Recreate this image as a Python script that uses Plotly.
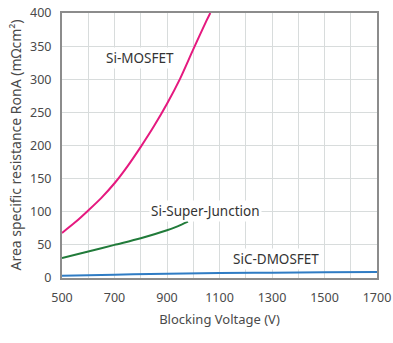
import plotly.graph_objects as go

mos_x = [500, 550, 600, 650, 700, 750, 800, 850, 900, 950, 1000, 1050, 1065]
mos_y = [68, 84, 102, 121, 143, 169, 198, 229, 263, 301, 345, 388, 400]

sj_x = [500, 600, 700, 800, 900, 940, 980]
sj_y = [30, 40, 50, 60, 72, 78, 85]

sic_x = [500, 700, 900, 1100, 1300, 1500, 1700]
sic_y = [3.5, 5, 6.5, 7.5, 8, 8.5, 9]

labels = ["Si-MOSFET", "Si-Super-Junction", "SiC-DMOSFET"]
label_x = [797, 1045, 1315]
label_y = [332, 101, 29]

x_ticks = [500, 700, 900, 1100, 1300, 1500, 1700]
y_ticks = [0, 50, 100, 150, 200, 250, 300, 350, 400]

y_title = "Area specific resistance RonA (mΩcm²)"
x_title = "Blocking Voltage (V)"

fig = go.Figure()
fig.add_trace(go.Scatter(x=mos_x, y=mos_y, mode="lines", line=dict(color="#e5197f", width=2, shape="spline", smoothing=0.8), showlegend=False))
fig.add_trace(go.Scatter(x=sj_x, y=sj_y, mode="lines", line=dict(color="#217b3a", width=2, shape="spline", smoothing=0.8), showlegend=False))
fig.add_trace(go.Scatter(x=sic_x, y=sic_y, mode="lines", line=dict(color="#2f7cc4", width=2, shape="spline"), showlegend=False))

for t, xx, yy in zip(labels, label_x, label_y):
    fig.add_annotation(x=xx, y=yy, text=t, showarrow=False, bgcolor="white",
                       font=dict(size=13.5, color="#333333"), borderpad=1)

fig.add_annotation(xref="paper", yref="paper", x=-0.149, y=0.5, text=y_title,
                   textangle=-90, showarrow=False, xanchor="center", yanchor="middle",
                   font=dict(size=14, color="#4a4a4a"))

font_family = "Noto Sans, Lato, sans-serif"
fig.update_layout(
    width=393, height=343,
    margin=dict(l=62, r=16, t=13, b=65, autoexpand=False),
    paper_bgcolor="white", plot_bgcolor="white",
    font=dict(family=font_family, size=13, color="#4a4a4a"),
    xaxis=dict(range=[500, 1700], tickvals=x_ticks,
               showgrid=True, gridcolor="#d8dcdc", gridwidth=1,
               showline=True, mirror=True, linecolor="#8c8c8c", linewidth=2,
               ticks="", ticklabelstandoff=7, automargin=False,
               tickfont=dict(size=12.5),
               title=dict(text=x_title, standoff=10, font=dict(size=13)),
               zeroline=False),
    yaxis=dict(range=[0, 400], tickvals=y_ticks,
               showgrid=True, gridcolor="#d8dcdc", gridwidth=1,
               showline=True, mirror=True, linecolor="#8c8c8c", linewidth=2,
               ticks="", ticklabelstandoff=6, automargin=False,
               tickfont=dict(size=12.5),
               zeroline=False),
)
fig.update_xaxes(minor=dict(dtick=100, tick0=500, showgrid=True, gridcolor="#d8dcdc", gridwidth=1))

fig.write_html("out.html")
